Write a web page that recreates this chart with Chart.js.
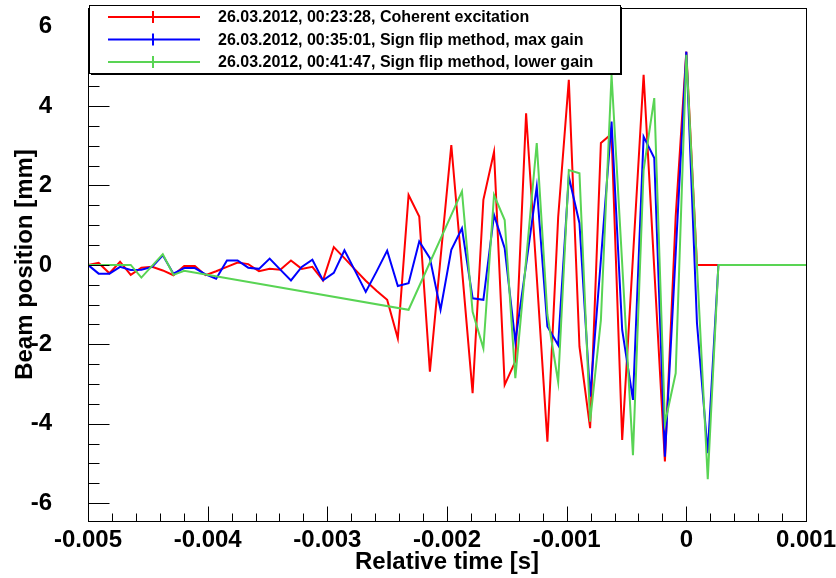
<!DOCTYPE html>
<html>
<head>
<meta charset="utf-8">
<script src="https://cdn.jsdelivr.net/npm/chart.js@4/dist/chart.umd.min.js"></script>
<style>
  html, body { margin: 0; padding: 0; background: #fff; }
  canvas { display: block; }
</style>
</head>
<body>
<canvas id="beamChart" width="836" height="578"></canvas>
<script>
// Sample times [s] (shared by all three runs)
const times = [
  -0.005000, -0.004911, -0.004821, -0.004732, -0.004643, -0.004554, -0.004464, -0.004375,
  -0.004286, -0.004196, -0.004107, -0.004018, -0.003929, -0.003839, -0.003750, -0.003661,
  -0.003571, -0.003482, -0.003393, -0.003304, -0.003214, -0.003125, -0.003036, -0.002946,
  -0.002857, -0.002768, -0.002679, -0.002589, -0.002500, -0.002411, -0.002321, -0.002232,
  -0.002143, -0.002054, -0.001964, -0.001875, -0.001786, -0.001696, -0.001607, -0.001518,
  -0.001429, -0.001339, -0.001250, -0.001161, -0.001071, -0.000982, -0.000893, -0.000804,
  -0.000714, -0.000625, -0.000536, -0.000446, -0.000357, -0.000268, -0.000179, -0.000089,
  0, 0.000089, 0.000179, 0.000268, 0.000357, 0.000446, 0.000536, 0.000625,
  0.000714, 0.000804, 0.000893, 0.000982, 0.001071
];

// Beam position [mm]
const coherent = [
  0.00, 0.05, -0.21, 0.08, -0.25, -0.07, -0.05, -0.14,
  -0.26, -0.03, -0.03, -0.26, -0.16, -0.05, 0.06, 0.02,
  -0.16, -0.10, -0.12, 0.11, -0.10, -0.05, -0.39, 0.45,
  0.17, -0.12, -0.40, -0.65, -0.88, -1.85, 1.76, 1.22,
  -2.69, 0.17, 3.02, -0.10, -3.23, 1.64, 2.85, -3.02,
  -2.43, 3.82, -0.30, -4.45, 1.20, 4.66, -2.06, -4.11,
  3.07, 3.30, -4.41, 0.20, 4.79, -0.10, -4.95, 1.22,
  5.37, 0, 0, 0, 0, 0, 0, 0,
  0, 0, 0, 0, 0
];
const maxGain = [
  0.00, -0.22, -0.22, -0.05, -0.13, -0.12, -0.05, 0.24,
  -0.22, -0.08, -0.08, -0.24, -0.35, 0.11, 0.11, -0.07,
  -0.10, 0.16, -0.12, -0.39, -0.05, 0.13, -0.39, -0.20,
  0.37, -0.15, -0.68, -0.17, 0.36, -0.53, -0.46, 0.59,
  0.17, -1.13, 0.38, 0.92, -0.84, -0.88, 1.26, 0.42,
  -1.93, 0.00, 1.97, -1.55, -2.02, 2.22, 1.05, -3.32,
  0.13, 3.61, -1.64, -3.40, 3.23, 2.69, -4.83, 0.28,
  5.37, -1.47, -4.74, 0, 0, 0, 0, 0,
  0, 0, 0, 0, 0
];
// lower gain run has gaps (no reading) -> null
const lowerGain = [
  0.00, 0.00, 0.00, 0.00, 0.00, -0.32, null, 0.27,
  -0.25, -0.15, null, null, null, null, null, null,
  null, null, null, null, null, null, null, null,
  null, null, null, null, null, null, -1.13, null,
  null, null, null, 1.85, -1.18, -2.10, 1.76, 1.13,
  -2.85, null, 3.07, -1.25, -2.95, 2.39, 2.31, -3.95,
  -1.39, 4.79, null, -4.79, 2.39, 4.20, -3.99, -2.73,
  5.29, null, -5.40, 0, 0, 0, 0, 0,
  0, 0, 0, 0, 0
];

const seriesLabels = [
  '26.03.2012, 00:23:28, Coherent excitation',
  '26.03.2012, 00:35:01, Sign flip method, max gain',
  '26.03.2012, 00:41:47, Sign flip method, lower gain'
];
const seriesColors = ['#ff0000', '#0000ff', 'rgb(89,212,84)'];

const xTicks = [-0.005, -0.004, -0.003, -0.002, -0.001, 0, 0.001];
const yTicks = [-6, -4, -2, 0, 2, 4, 6];

const FONT = "'Liberation Sans', Arial, Helvetica, sans-serif";

function toPoints(vals) {
  return times.map((t, i) => ({ x: t, y: vals[i] }));
}

// frame, inside tick marks (major + minor) and the boxed legend
const rootStyle = {
  id: 'rootStyle',
  afterDraw(chart) {
    const { ctx, chartArea: a, scales } = chart;
    const xs = scales.x, ys = scales.y;
    ctx.save();
    ctx.strokeStyle = '#000';
    ctx.lineWidth = 1;
    ctx.strokeRect(Math.round(a.left) + 0.5, Math.round(a.top) + 0.5,
      Math.round(a.right - a.left), Math.round(a.bottom - a.top));

    ctx.beginPath();
    const bx = Math.round(a.bottom) + 0.5;
    for (let i = 0; i < xTicks.length - 1; i++) {
      const step = (xTicks[i + 1] - xTicks[i]) / 5;
      for (let j = 0; j < 5; j++) {
        const px = Math.round(xs.getPixelForValue(xTicks[i] + j * step)) + 0.5;
        ctx.moveTo(px, bx);
        ctx.lineTo(px, bx - (j === 0 ? 15 : 8));
      }
    }
    const lx = Math.round(a.left) + 0.5;
    for (let i = 0; i < yTicks.length - 1; i++) {
      const step = (yTicks[i + 1] - yTicks[i]) / 4;
      for (let j = 0; j < 4; j++) {
        const py = Math.round(ys.getPixelForValue(yTicks[i] + j * step)) + 0.5;
        ctx.moveTo(lx, py);
        ctx.lineTo(lx + (j === 0 ? 21 : 11), py);
      }
    }
    const top6 = Math.round(ys.getPixelForValue(6)) + 0.5;
    ctx.moveTo(lx, top6); ctx.lineTo(lx + 21, top6);
    // remaining minor ticks beyond the outer major ones
    for (let v = 6.5; v < ys.max; v += 0.5) {
      const py = Math.round(ys.getPixelForValue(v)) + 0.5;
      ctx.moveTo(lx, py); ctx.lineTo(lx + 11, py);
    }
    for (let v = -6.5; v > ys.min; v -= 0.5) {
      const py = Math.round(ys.getPixelForValue(v)) + 0.5;
      ctx.moveTo(lx, py); ctx.lineTo(lx + 11, py);
    }
    ctx.stroke();

    // legend
    const box = { x: 89, y: 5, w: 531, h: 68 };
    ctx.fillStyle = '#000';
    ctx.fillRect(box.x + 2, box.y + box.h, box.w, 2);
    ctx.fillRect(box.x + box.w, box.y + 2, 2, box.h);
    ctx.fillStyle = '#fff';
    ctx.fillRect(box.x, box.y, box.w, box.h);
    ctx.strokeRect(box.x + 0.5, box.y + 0.5, box.w, box.h);

    ctx.font = 'bold 16px ' + FONT;
    ctx.textBaseline = 'middle';
    ctx.textAlign = 'left';
    seriesLabels.forEach((label, i) => {
      const ry = 17 + i * 22.5;
      ctx.strokeStyle = seriesColors[i];
      ctx.lineWidth = 2;
      ctx.beginPath();
      ctx.moveTo(108, ry); ctx.lineTo(200, ry);
      ctx.moveTo(153, ry - 6); ctx.lineTo(153, ry + 6);
      ctx.stroke();
      ctx.fillStyle = '#000';
      ctx.fillText(label, 218, ry + 1);
    });
    ctx.restore();
  }
};

const ctx = document.getElementById('beamChart').getContext('2d');
window.beamChart = new Chart(ctx, {
  type: 'line',
  data: {
    datasets: [coherent, maxGain, lowerGain].map((vals, i) => ({
      label: seriesLabels[i],
      data: toPoints(vals),
      borderColor: seriesColors[i],
      backgroundColor: seriesColors[i],
      borderWidth: 2,
      pointRadius: 0,
      tension: 0,
      spanGaps: true,
      clip: 0,
      order: 3 - i
    }))
  },
  options: {
    responsive: false,
    animation: false,
    layout: { padding: { top: 8, right: 30, left: 0, bottom: 0 } },
    plugins: {
      legend: { display: false },
      tooltip: { enabled: false }
    },
    scales: {
      x: {
        type: 'linear',
        min: -0.005,
        max: 0.001,
        afterBuildTicks: s => { s.ticks = xTicks.map(v => ({ value: v })); },
        afterFit: s => { s.height = 57; s.paddingLeft = 0; s.paddingRight = 0; },
        grid: { display: false, drawTicks: false },
        border: { display: false },
        ticks: {
          autoSkip: false,
          maxRotation: 0,
          padding: 5,
          color: '#000',
          font: { family: FONT, size: 24, weight: 'bold' },
          callback: v => (v === 0 ? '0' : v.toFixed(3))
        },
        title: {
          display: true,
          text: 'Relative time [s]',
          color: '#000',
          font: { family: FONT, size: 24, weight: 'bold' },
          padding: { top: 0, bottom: 1 }
        }
      },
      y: {
        type: 'linear',
        min: -6.45,
        max: 6.47,
        afterBuildTicks: s => { s.ticks = yTicks.map(v => ({ value: v })); },
        afterFit: s => { s.width = 88; s.paddingTop = 0; s.paddingBottom = 0; },
        grid: { display: false, drawTicks: false },
        border: { display: false },
        ticks: {
          padding: 36,
          color: '#000',
          font: { family: FONT, size: 24, weight: 'bold' },
          callback: v => String(v)
        },
        title: {
          display: true,
          text: 'Beam position [mm]',
          color: '#000',
          font: { family: FONT, size: 24, weight: 'bold' },
          padding: { top: 11, bottom: 0 }
        }
      }
    }
  },
  plugins: [rootStyle]
});
</script>
</body>
</html>
